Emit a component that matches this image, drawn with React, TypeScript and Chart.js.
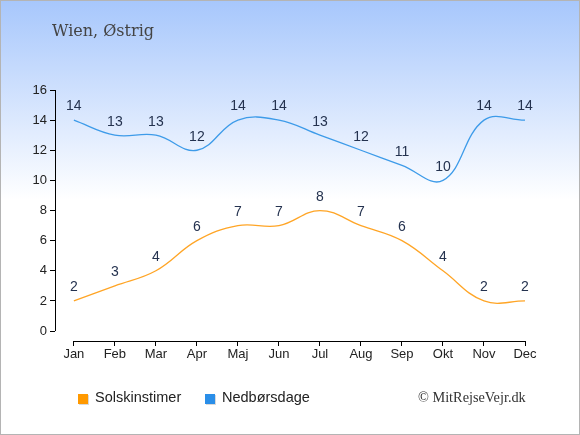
import React, { useEffect, useRef } from 'react';
import { Chart, registerables } from 'chart.js';

Chart.register(...registerables);

const months = ['Jan', 'Feb', 'Mar', 'Apr', 'Maj', 'Jun', 'Jul', 'Aug', 'Sep', 'Okt', 'Nov', 'Dec'];
const sunHours = [2, 3, 4, 6, 7, 7, 8, 7, 6, 4, 2, 2];
const rainDays = [14, 13, 13, 12, 14, 14, 13, 12, 11, 10, 14, 14];
const yTicks = [0, 2, 4, 6, 8, 10, 12, 14, 16];

const sunColor = '#ffa526';
const rainColor = '#3d9be9';
const labelFont = '14px "Liberation Sans", Arial, sans-serif';

const axisPlugin = {
  id: 'axisLines',
  beforeDatasetsDraw(chart: any) {
    const { ctx, scales } = chart;
    const x = scales.x;
    const y = scales.y;
    ctx.save();
    ctx.strokeStyle = '#000';
    ctx.lineWidth = 1;
    ctx.beginPath();
    const left = Math.round(x.left) + 0.5;
    ctx.moveTo(left, y.getPixelForValue(16));
    ctx.lineTo(left, y.getPixelForValue(0));
    const bottom = Math.round(y.bottom) + 0.5;
    ctx.moveTo(x.getPixelForValue(0), bottom);
    ctx.lineTo(x.getPixelForValue(11), bottom);
    ctx.stroke();
    ctx.restore();
  },
};

const valueLabels = {
  id: 'valueLabels',
  afterDatasetsDraw(chart: any) {
    const { ctx } = chart;
    ctx.save();
    ctx.font = labelFont;
    ctx.fillStyle = '#24324f';
    ctx.textAlign = 'center';
    ctx.textBaseline = 'middle';
    chart.data.datasets.forEach((ds: any, i: number) => {
      chart.getDatasetMeta(i).data.forEach((pt: any, j: number) => {
        ctx.fillText(String(ds.data[j].y), pt.x, pt.y - 13.5);
      });
    });
    ctx.restore();
  },
};

export default function App() {
  const canvasRef = useRef<HTMLCanvasElement>(null);
  const chartRef = useRef<Chart | null>(null);

  useEffect(() => {
    document.body.style.margin = '0';
    if (!canvasRef.current) return;
    const ctx = canvasRef.current.getContext('2d');
    if (!ctx) return;
    if (chartRef.current) chartRef.current.destroy();

    const tickFont = { family: '"Liberation Sans", Arial, sans-serif', size: 13 };

    chartRef.current = new Chart(ctx, {
      type: 'line',
      data: {
        datasets: [
          {
            label: 'Solskinstimer',
            data: sunHours.map((v, i) => ({ x: i, y: v })),
            borderColor: sunColor,
            borderWidth: 1.3,
            pointRadius: 0,
            tension: 0.4,
            fill: false,
          },
          {
            label: 'Nedbørsdage',
            data: rainDays.map((v, i) => ({ x: i, y: v })),
            borderColor: rainColor,
            borderWidth: 1.3,
            pointRadius: 0,
            tension: 0.4,
            fill: false,
          },
        ],
      },
      options: {
        animation: false,
        responsive: false,
        layout: { padding: { left: 0, right: 55, top: 90, bottom: 64 } },
        plugins: { legend: { display: false }, tooltip: { enabled: false } },
        scales: {
          x: {
            type: 'linear',
            min: -0.46,
            max: 11,
            afterBuildTicks: (s: any) => {
              s.ticks = months.map((_, i) => ({ value: i }));
            },
            afterFit: (s: any) => {
              s.height = 30;
            },
            ticks: {
              callback: (v: any) => months[v],
              font: tickFont,
              color: '#222',
              padding: 1,
              maxRotation: 0,
              autoSkip: false,
            },
            grid: { drawOnChartArea: false, drawTicks: true, tickLength: 5, color: '#000' },
            border: { display: false },
          },
          y: {
            min: -0.66,
            max: 16,
            afterBuildTicks: (s: any) => {
              s.ticks = yTicks.map((v) => ({ value: v }));
            },
            afterFit: (s: any) => {
              s.width = 55;
            },
            ticks: { font: tickFont, color: '#222', padding: 3 },
            grid: { drawOnChartArea: false, drawTicks: true, tickLength: 5, color: '#000' },
            border: { display: false },
          },
        },
      },
      plugins: [axisPlugin, valueLabels],
    });

    return () => chartRef.current?.destroy();
  }, []);

  const legendText: React.CSSProperties = {
    position: 'absolute',
    top: 388,
    font: '14.5px "Liberation Sans", Arial, sans-serif',
    color: '#222',
  };
  const square = (left: number, color: string): React.CSSProperties => ({
    position: 'absolute',
    left,
    top: 393,
    width: 10,
    height: 10,
    background: color,
    boxShadow: '1px 1px 0 rgba(0,0,0,0.15)',
  });

  return (
    <div
      style={{
        position: 'relative',
        width: 580,
        height: 435,
        boxSizing: 'border-box',
        border: '1px solid #b4b4b4',
        background: 'linear-gradient(to bottom, #a7c7fc 0%, #ffffff 46%, #ffffff 100%)',
        overflow: 'hidden',
      }}
    >
      <canvas ref={canvasRef} width={580} height={435} style={{ position: 'absolute', left: -1, top: -1 }} />
      <div
        style={{
          position: 'absolute',
          left: 51,
          top: 20,
          font: '16px "DejaVu Serif", serif',
          color: '#444',
        }}
      >
        Wien, Østrig
      </div>
      <div style={square(77, '#ff9900')} />
      <div style={{ ...legendText, left: 94 }}>Solskinstimer</div>
      <div style={square(204, '#2a8ee8')} />
      <div style={{ ...legendText, left: 221 }}>Nedbørsdage</div>
      <div
        style={{
          position: 'absolute',
          left: 417,
          top: 388,
          font: '14.3px "Liberation Serif", serif',
          color: '#333',
        }}
      >
        © MitRejseVejr.dk
      </div>
    </div>
  );
}
